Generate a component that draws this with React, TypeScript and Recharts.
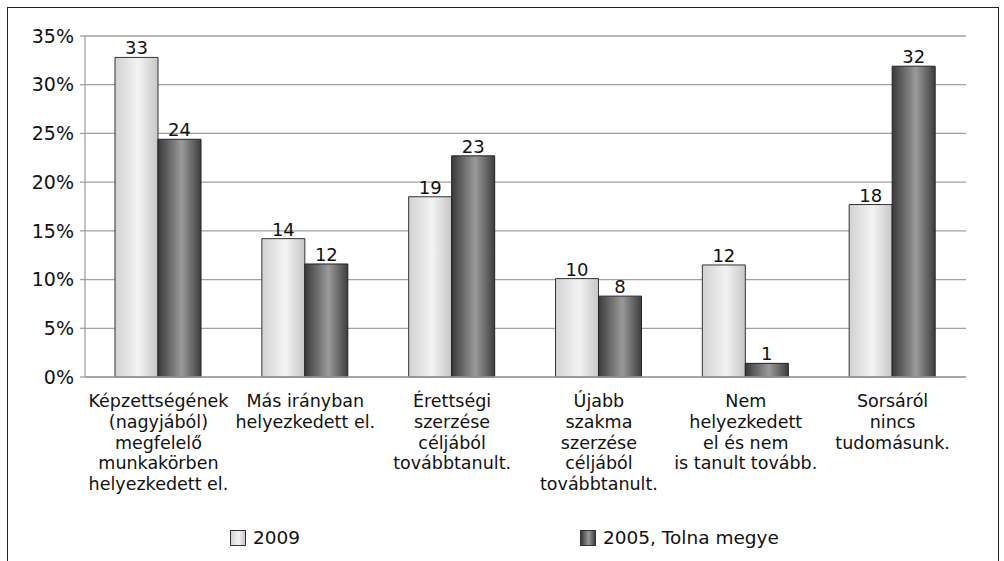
import { BarChart, Bar, XAxis, YAxis, CartesianGrid, LabelList, Legend } from "recharts";

const categories = [
  ["Képzettségének", "(nagyjából)", "megfelelő", "munkakörben", "helyezkedett el."],
  ["Más irányban", "helyezkedett el."],
  ["Érettségi", "szerzése", "céljából", "továbbtanult."],
  ["Újabb", "szakma", "szerzése", "céljából", "továbbtanult."],
  ["Nem", "helyezkedett", "el és nem", "is tanult tovább."],
  ["Sorsáról", "nincs", "tudomásunk."],
];
const values2009 = [32.8, 14.2, 18.5, 10.1, 11.5, 17.7];
const values2005 = [24.4, 11.6, 22.7, 8.3, 1.4, 31.9];
const yTicks = [0, 5, 10, 15, 20, 25, 30, 35];

const data = categories.map((lines, i) => ({
  name: lines.join(" "),
  y2009: values2009[i],
  y2005: values2005[i],
}));

const FONT = "'DejaVu Sans', sans-serif";

function CategoryTick(props: any) {
  const { x, y, index } = props;
  const lines = categories[index] || [];
  return (
    <g transform={`translate(${x},${y})`}>
      <text textAnchor="middle" fontFamily={FONT} fontSize={17.5} fill="#111">
        {lines.map((l, i) => (
          <tspan key={i} x={0} y={22 + i * 20.8}>
            {l}
          </tspan>
        ))}
      </text>
    </g>
  );
}

function LegendContent() {
  const items = [
    { label: "2009", left: 230, bg: "linear-gradient(to right,#d2d2d2,#f3f3f3 55%,#c6c6c6)" },
    { label: "2005, Tolna megye", left: 580, bg: "linear-gradient(to right,#3a3a3a,#9a9a9a 55%,#3e3e3e)" },
  ];
  return (
    <div style={{ position: "relative", height: 24, fontFamily: FONT, fontSize: 18.5, color: "#111" }}>
      {items.map((it) => (
        <div key={it.label} style={{ position: "absolute", left: it.left, top: 0, display: "flex", alignItems: "center" }}>
          <span style={{ width: 14, height: 14, border: "1px solid #333", background: it.bg, marginRight: 7, display: "inline-block" }} />
          <span>{it.label}</span>
        </div>
      ))}
    </div>
  );
}

export default function App() {
  return (
    <div style={{ position: "absolute", left: 0, top: 0, width: 1004, height: 561, overflow: "hidden", background: "#fff" }}>
      <div style={{ position: "absolute", left: 7, top: 7, width: 990, height: 600, border: "1.5px solid #222" }} />
      <div style={{ position: "absolute", left: 0, top: 0 }}>
        <BarChart
          width={1004}
          height={561}
          data={data}
          margin={{ top: 36, right: 38, bottom: 0, left: 0 }}
          barGap={0}
          barSize={43}
        >
          <defs>
            <linearGradient id="g2009" x1="0" y1="0" x2="1" y2="0">
              <stop offset="0%" stopColor="#d2d2d2" />
              <stop offset="55%" stopColor="#f3f3f3" />
              <stop offset="100%" stopColor="#c6c6c6" />
            </linearGradient>
            <linearGradient id="g2005" x1="0" y1="0" x2="1" y2="0">
              <stop offset="0%" stopColor="#3a3a3a" />
              <stop offset="55%" stopColor="#9a9a9a" />
              <stop offset="100%" stopColor="#3e3e3e" />
            </linearGradient>
          </defs>
          <CartesianGrid vertical={false} stroke="#a0a0a0" strokeWidth={1.3} />
          <XAxis
            dataKey="name"
            height={160}
            interval={0}
            tick={<CategoryTick />}
            tickLine={false}
            axisLine={{ stroke: "#a0a0a0", strokeWidth: 1.3 }}
          />
          <YAxis
            width={85}
            domain={[0, 35]}
            ticks={yTicks}
            tickFormatter={(v) => `${v}%`}
            tick={{ fontFamily: FONT, fontSize: 19, fill: "#111" }}
            tickSize={5}
            tickMargin={6}
            tickLine={{ stroke: "#a0a0a0", strokeWidth: 1.3 }}
            axisLine={{ stroke: "#a0a0a0", strokeWidth: 1.3 }}
          />
          <Legend verticalAlign="bottom" content={<LegendContent />} wrapperStyle={{ left: 0, width: 1004, bottom: 10 }} />
          <Bar dataKey="y2009" name="2009" fill="url(#g2009)" stroke="#333" strokeWidth={1} isAnimationActive={false}>
            <LabelList
              dataKey="y2009"
              position="top"
              offset={3}
              formatter={(v: any) => Math.round(v)}
              style={{ fontFamily: FONT, fontSize: 18, fill: "#111" }}
            />
          </Bar>
          <Bar dataKey="y2005" name="2005, Tolna megye" fill="url(#g2005)" stroke="#222" strokeWidth={1} isAnimationActive={false}>
            <LabelList
              dataKey="y2005"
              position="top"
              offset={3}
              formatter={(v: any) => Math.round(v)}
              style={{ fontFamily: FONT, fontSize: 18, fill: "#111" }}
            />
          </Bar>
        </BarChart>
      </div>
    </div>
  );
}
